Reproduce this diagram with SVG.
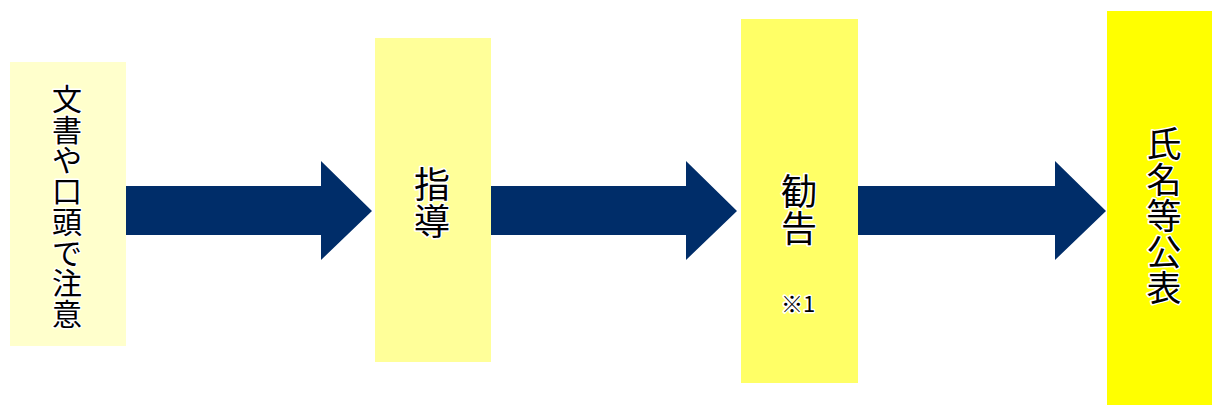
<svg xmlns="http://www.w3.org/2000/svg" width="1212" height="405" viewBox="0 0 1212 405">
<style>
.lbl{font-family:"Noto Sans CJK JP","Noto Sans",sans-serif;fill:#000;stroke:#fff;stroke-width:3;paint-order:stroke;stroke-linejoin:round;text-anchor:middle;dominant-baseline:central}
.arr{fill:#002D69}
</style>
<rect width="1212" height="405" fill="#fff"/>
<g id="connectors">
<polygon class="arr" points="125,186 321,186 321,161 372,211 321,260 321,235 125,235"/>
<polygon class="arr" points="490,186 686,186 686,161 737,211 686,260 686,235 490,235"/>
<polygon class="arr" points="857,186 1055,186 1055,161 1106,211 1055,260 1055,235 857,235"/>
</g>
<g id="node1">
<rect x="10" y="62" width="116" height="284" fill="#FFFFCC"/>
<text class="lbl" font-size="30" x="67" y="97">文<tspan x="67" dy="30.7">書</tspan><tspan x="67" dy="30.7">や</tspan><tspan x="67" dy="30.7">口</tspan><tspan x="67" dy="30.7">頭</tspan><tspan x="67" dy="30.7">で</tspan><tspan x="67" dy="30.7">注</tspan><tspan x="67" dy="30.7">意</tspan></text>
</g>
<g id="node2">
<rect x="375" y="38" width="116" height="324" fill="#FFFF99"/>
<text class="lbl" font-size="36" x="432" y="182">指<tspan x="432" dy="37">導</tspan></text>
</g>
<g id="node3">
<rect x="741" y="19" width="117" height="364" fill="#FFFF66"/>
<text class="lbl" font-size="36" x="799" y="189">勧<tspan x="799" dy="37">告</tspan></text>
<text class="lbl" font-size="22" x="798" y="302">※1</text>
</g>
<g id="node4">
<rect x="1107" y="11" width="105" height="394" fill="#FFFF00"/>
<text class="lbl" font-size="35" x="1164" y="141">氏<tspan x="1164" dy="36">名</tspan><tspan x="1164" dy="36">等</tspan><tspan x="1164" dy="36">公</tspan><tspan x="1164" dy="36">表</tspan></text>
</g>
</svg>
